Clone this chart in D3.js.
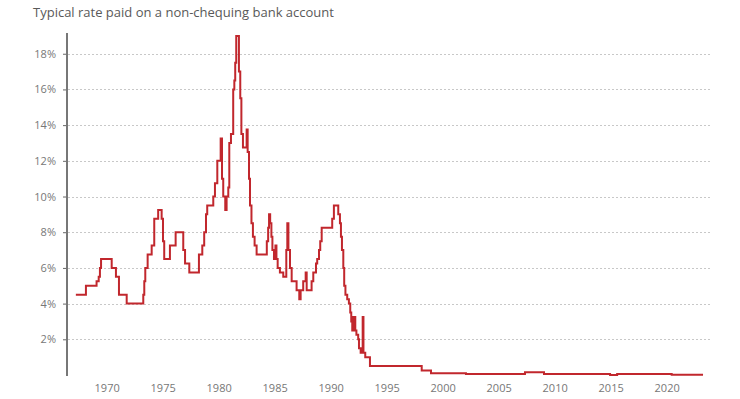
<!DOCTYPE html>
<html>
<head>
<meta charset="utf-8">
<script src="https://cdn.jsdelivr.net/npm/d3@7"></script>
<style>
  body { margin: 0; background: #fff; }
  text { font-family: "Open Sans", sans-serif; }
</style>
</head>
<body>
<svg id="chart"></svg>
<script>
var width = 740,
    height = 399;

// change points of the step series: decimal year, rate (%)
var years = [1967.25, 1968.15, 1969.1, 1969.29, 1969.4, 1969.5, 1970.45, 1970.83, 1971.1, 1971.79,
  1973.27, 1973.36, 1973.45, 1973.66, 1974.02, 1974.25, 1974.6, 1974.91, 1975.03, 1975.14,
  1975.65, 1976.16, 1976.84, 1977.0, 1977.38, 1978.24, 1978.54, 1978.71, 1978.87, 1978.98,
  1979.52, 1979.67, 1979.88, 1980.18, 1980.3, 1980.41, 1980.59, 1980.71, 1980.86, 1980.95,
  1981.1, 1981.3, 1981.4, 1981.48, 1981.57, 1981.81, 1981.93, 1982.03, 1982.17, 1982.5,
  1982.59, 1982.71, 1982.8, 1982.93, 1983.06, 1983.21, 1983.39, 1984.3, 1984.42, 1984.5,
  1984.6, 1984.71, 1984.8, 1984.94, 1985.07, 1985.16, 1985.27, 1985.47, 1985.77, 1986.04,
  1986.13, 1986.23, 1986.37, 1986.52, 1986.96, 1987.2, 1987.32, 1987.55, 1987.77, 1987.86,
  1988.3, 1988.45, 1988.69, 1988.8, 1988.96, 1989.07, 1989.2, 1990.14, 1990.29, 1990.68,
  1990.83, 1990.92, 1991.01, 1991.13, 1991.21, 1991.32, 1991.48, 1991.63, 1991.75, 1991.84,
  1991.93, 1991.99, 1992.06, 1992.13, 1992.2, 1992.3, 1992.46, 1992.53, 1992.68, 1992.86,
  1992.93, 1993.09, 1993.51, 1998.13, 1998.96, 2002.08, 2007.35, 2009.05, 2014.95, 2015.58,
  2020.45, 2023.25];

var rates = [4.5, 5.0, 5.25, 5.5, 6.0, 6.5, 6.0, 5.5, 4.5, 4.0,
  4.5, 5.25, 6.0, 6.75, 7.25, 8.75, 9.25, 8.75, 7.5, 6.5,
  7.25, 8.0, 7.0, 6.25, 5.75, 6.75, 7.25, 8.0, 9.0, 9.5,
  10.0, 10.75, 12.0, 13.25, 11.0, 10.0, 9.25, 10.0, 10.5, 13.0,
  13.5, 16.0, 16.5, 17.5, 19.0, 17.0, 15.5, 13.5, 12.75, 13.75,
  12.5, 11.0, 9.5, 8.5, 7.75, 7.25, 6.75, 7.5, 8.25, 9.0,
  8.5, 7.75, 7.0, 6.5, 7.25, 6.5, 6.0, 5.75, 5.5, 7.0,
  8.5, 7.0, 6.0, 5.25, 4.75, 4.25, 4.75, 5.25, 5.75, 4.75,
  5.25, 5.75, 6.25, 6.5, 7.0, 7.5, 8.25, 8.75, 9.5, 9.0,
  8.5, 7.75, 7.0, 6.0, 5.0, 4.5, 4.25, 4.0, 3.5, 3.0,
  2.5, 3.25, 2.5, 3.25, 2.5, 2.25, 2.0, 1.5, 1.25, 3.25,
  1.25, 1.0, 0.5, 0.25, 0.1, 0.05, 0.15, 0.05, 0.0, 0.05,
  0.02, 0.02];

var yTicks = [2, 4, 6, 8, 10, 12, 14, 16, 18];
var xTicks = [1970, 1975, 1980, 1985, 1990, 1995, 2000, 2005, 2010, 2015, 2020];

var title = "Typical rate paid on a non-chequing bank account";

var svg = d3.select("#chart")
    .attr("width", width)
    .attr("height", height);

var xScale = d3.scaleLinear().domain([1966.46, 2024.05]).range([67, 712]);
var yScale = d3.scaleLinear().domain([0, 19.05]).range([375, 35]);

svg.append("text")
    .attr("x", 33)
    .attr("y", 17)
    .style("font-size", "13px")
    .style("fill", "#595959")
    .text(title);

// gridlines
svg.append("g")
    .selectAll("line")
    .data(yTicks)
    .enter()
    .append("line")
        .attr("x1", 68)
        .attr("x2", 712)
        .attr("y1", function(d) { return Math.round(yScale(d)) + 0.5; })
        .attr("y2", function(d) { return Math.round(yScale(d)) + 0.5; })
        .style("stroke", "#c8c8c8")
        .style("stroke-width", 1)
        .style("stroke-dasharray", "2,2");

// y axis
var yAxisGroup = svg.append("g")
    .attr("transform", "translate(67,0)")
    .call(d3.axisLeft(yScale)
        .tickValues(yTicks)
        .tickSize(4)
        .tickPadding(7)
        .tickFormat(function(d) { return d + "%"; }));

yAxisGroup.select(".domain").remove();
yAxisGroup.selectAll(".tick line").style("stroke", "#666");
yAxisGroup.selectAll(".tick text")
    .style("font-family", "'Open Sans', sans-serif")
    .style("font-size", "11px")
    .style("fill", "#777");

svg.append("line")
    .attr("x1", 67)
    .attr("x2", 67)
    .attr("y1", yScale(19.05) - 2)
    .attr("y2", 376)
    .style("stroke", "#777")
    .style("stroke-width", 2);

// x axis (labels only)
var xAxisGroup = svg.append("g")
    .attr("transform", "translate(0,376)")
    .call(d3.axisBottom(xScale)
        .tickValues(xTicks)
        .tickSize(0)
        .tickPadding(8)
        .tickFormat(d3.format("d")));

xAxisGroup.select(".domain").remove();
xAxisGroup.selectAll(".tick text")
    .style("font-family", "'Open Sans', sans-serif")
    .style("font-size", "11px")
    .style("fill", "#777");

var series = years.map(function(d, i) { return [d, rates[i]]; });

var line = d3.line()
    .x(function(d) { return xScale(d[0]); })
    .y(function(d) { return yScale(d[1]); })
    .curve(d3.curveStepAfter);

svg.append("path")
    .datum(series)
    .attr("d", line)
    .style("fill", "none")
    .style("stroke", "#c1272d")
    .style("stroke-width", 2)
    .style("stroke-linejoin", "miter");
</script>
</body>
</html>
